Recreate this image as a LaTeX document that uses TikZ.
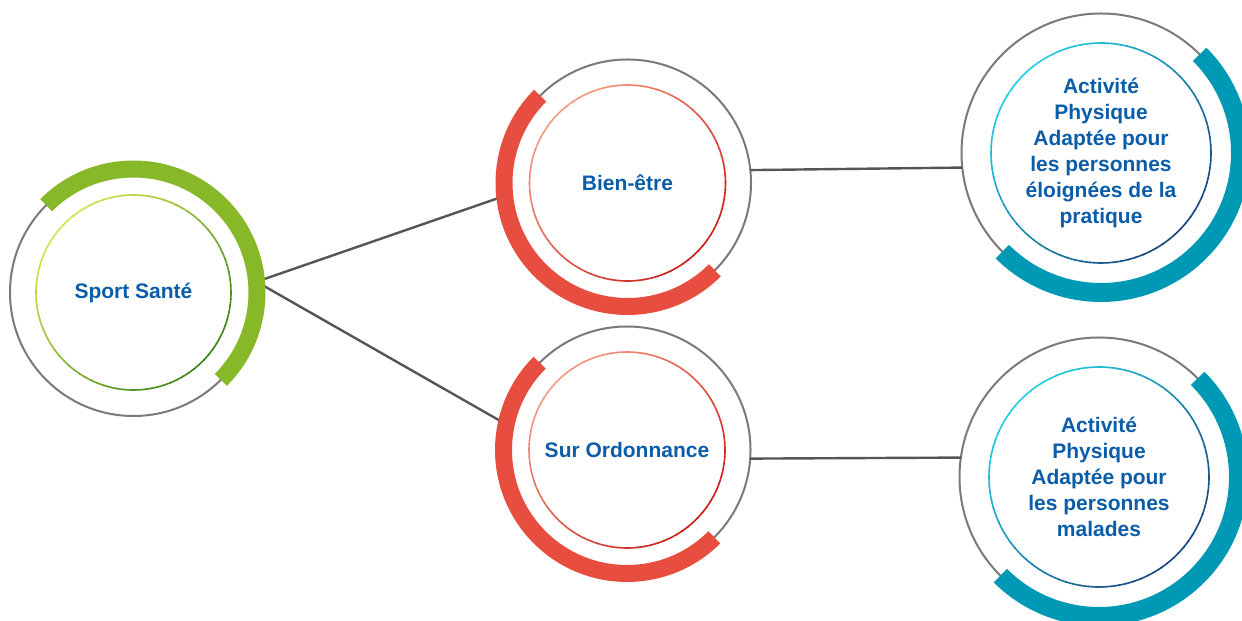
\documentclass[tikz,border=0pt]{standalone}
\usepackage{fontspec}
\setsansfont{Liberation Sans}
\usepackage{tikz}
\usepackage{xcolor}

\definecolor{ringgray}{HTML}{7A7A7A}
\definecolor{linegray}{HTML}{555555}
\definecolor{txtblue}{HTML}{0B5DA9}
\definecolor{sgreen}{HTML}{87B828}
\definecolor{sgreenlight}{HTML}{D2E450}
\definecolor{sgreendark}{HTML}{3C8519}
\definecolor{sred}{HTML}{E84E3F}
\definecolor{sredlight}{HTML}{F59C82}
\definecolor{sreddark}{HTML}{CC1E18}
\definecolor{sblue}{HTML}{0099B5}
\definecolor{sbluelight}{HTML}{22CFE2}
\definecolor{sbluedark}{HTML}{17467F}

% inner circle, light at top left, dark at bottom right
\newcommand{\gradring}[4]{%
  \foreach \a in {0,4,...,356}{%
    \pgfmathsetmacro{\t}{50+50*cos(\a-135)}
    \draw[shift={(#1)}, color={#3!\t!#4}, line width=0.8pt]
      (\a:#2) arc[start angle=\a, end angle=\a+4.6, radius=#2];
  }}

\begin{document}
\begin{tikzpicture}[x=0.5pt, y=0.5pt,
  ring/.style={circle, draw=ringgray, line width=1pt, minimum size=123.5pt,
    inner sep=0pt, outer sep=0pt, text=txtblue, align=center,
    font=\sffamily\bfseries\fontsize{10.5}{13}\selectfont},
  bigring/.style={ring, minimum size=139.5pt},
  link/.style={draw=linegray, line width=1.2pt},
  band/.style={line width=8.5pt},
  bigband/.style={line width=9.5pt}]
\path[use as bounding box, clip] (0,0) rectangle (1242,621);
\fill[white] (0,0) rectangle (1242,621);

\node[ring] (sante) at (133.5,328.5) {Sport Santé};
\node[ring] (bien) at (627.5,438) {Bien-être};
\node[ring] (ordo) at (627,171) {Sur Ordonnance};
\node[bigring] (apa1) at (1101,468) {Activité\\Physique\\Adaptée pour\\les personnes\\éloignées de la\\pratique};
\node[bigring] (apa2) at (1099,144) {Activité\\Physique\\Adaptée pour\\les personnes\\malades};

\draw[link] (sante.5) -- (bien.186);
\draw[link] (sante.5) -- (ordo.168);
\draw[link] (bien.6) -- (apa1.186);
\draw[link] (ordo.356) -- (apa2.172);

\draw[sgreen, band] (sante.135) arc[start angle=135, end angle=-45, radius=123.5];
\draw[sred, band] (bien.135) arc[start angle=135, end angle=315, radius=123.5];
\draw[sred, band] (ordo.135) arc[start angle=135, end angle=315, radius=123.5];
\draw[sblue, bigband] (apa1.45) arc[start angle=45, end angle=-135, radius=139.5];
\draw[sblue, bigband] (apa2.45) arc[start angle=45, end angle=-135, radius=139.5];

\gradring{sante}{97.5}{sgreenlight}{sgreendark}
\gradring{bien}{98}{sredlight}{sreddark}
\gradring{ordo}{98}{sredlight}{sreddark}
\gradring{apa1}{110}{sbluelight}{sbluedark}
\gradring{apa2}{110}{sbluelight}{sbluedark}
\end{tikzpicture}
\end{document}
